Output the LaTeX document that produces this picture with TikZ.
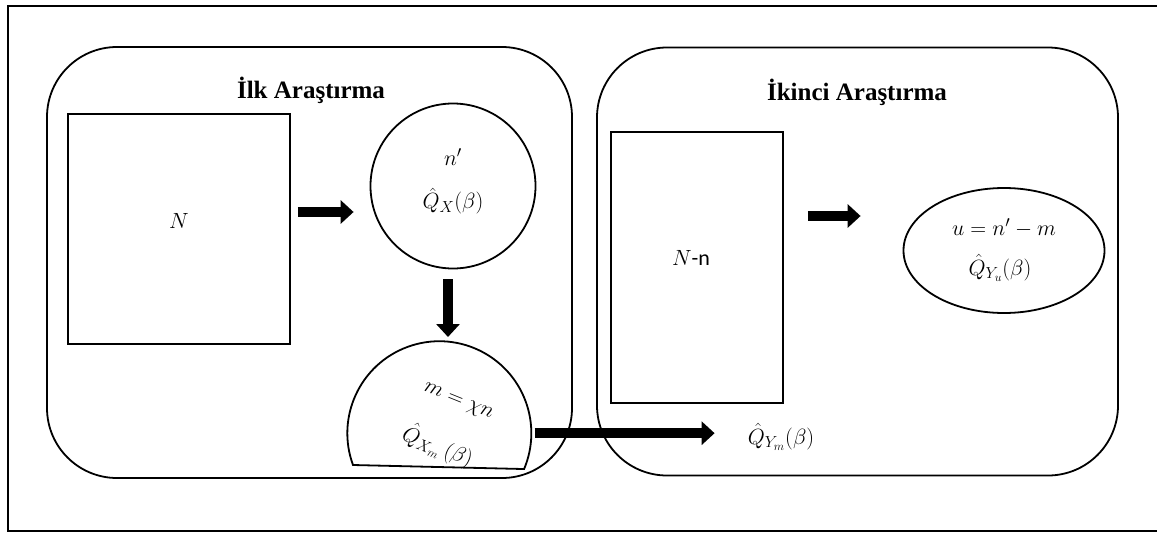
\RequirePackage{fix-cm}
\documentclass[tikz,border=0pt]{standalone}
\usepackage{amsmath}
\usepackage{fontspec}
\newfontfamily\headfont{Liberation Serif}
\newfontfamily\calfont{Carlito}
\DeclareMathSizes{22}{22}{16}{12}
\usetikzlibrary{arrows.meta,shapes.geometric}

\tikzset{
  shape line/.style={draw, line width=1.8pt},
  panel/.style={shape line, rounded corners=70pt, inner sep=0pt},
  heading/.style={font=\headfont\bfseries\fontsize{25}{30}\selectfont, inner sep=0pt},
  lbl/.style={font=\fontsize{22}{26}\selectfont, inner sep=0pt},
  fat/.style={line width=10.5pt, -{Triangle[length=13pt,width=23pt]}},
}

\begin{document}
\begin{tikzpicture}[x=1pt, y=-1pt]
\useasboundingbox (0,0) rectangle (1157,533);

% outer frame
\draw[line width=1.5pt] (1157,6) -- (8,6) -- (8,531) -- (1157,531);

% the two survey panels
\node[panel, minimum width=525pt, minimum height=431pt] (box1) at (309.5,262.5) {};
\node[panel, minimum width=521pt, minimum height=428pt] (box2) at (857.5,261.5) {};
\node[heading] (t1) at (311,90) {İlk Araştırma};
\node[heading] (t2) at (857,92) {İkinci Araştırma};

% first survey
\node[shape line, minimum width=222pt, minimum height=230pt, inner sep=0pt] (N) at (179,229) {};
\node[lbl] (Nlab) at (179,221) {$N$};

\node[shape line, circle, minimum size=165pt, inner sep=0pt] (c1) at (453,186) {};
\node[lbl] (c1a) at (453,157) {$n'$};
\node[lbl] (c1b) at (453,201) {$\hat{Q}_{X}(\beta)$};

% cut-off disc of the subsample
\node[circle, minimum size=184pt, inner sep=0pt] (dome) at (439.3,433.2) {};
\draw[line width=1.8pt] (353,465) arc[start angle=159.8, end angle=382.9, radius=92] -- cycle;
\node[lbl, rotate=-22] (d1) at (458,402) {$m=\chi n$};
\node[lbl, rotate=-22] (d2) at (438,446) {$\hat{Q}_{X_m}\,(\beta)$};

% second survey
\node[shape line, minimum width=172pt, minimum height=271pt, inner sep=0pt] (Nn) at (697,267.5) {};
\node[lbl] (Nnlab) at (691,258) {$N${\calfont -n}};

\node[shape line, ellipse, minimum width=201pt, minimum height=125pt, inner sep=0pt] (e1) at (1004,250.5) {};
\node[lbl] (e1a) at (1004,228) {$u=n'-m$};
\node[lbl] (e1b) at (1000,268) {$\hat{Q}_{Y_u}(\beta)$};

\node[lbl] (qym) at (781,437) {$\hat{Q}_{Y_m}(\beta)$};

% arrows
\coordinate (r1) at (0,212);
\coordinate (r2) at (0,216);
\coordinate (v1) at (448,0);
\draw[fat, shorten <=7pt, shorten >=16pt] (N.east |- r1) -- (c1.west |- r1);
\draw[fat, shorten <=10pt, shorten >=4pt] (c1.south -| v1) -- (dome.north -| v1);
\draw[fat, shorten <=24pt, shorten >=42pt] (Nn.east |- r2) -- (e1.west |- r2);
\draw[fat, shorten <=3pt, shorten >=33pt] (dome.east) -- (dome.east -| qym.west);
\end{tikzpicture}
\end{document}
